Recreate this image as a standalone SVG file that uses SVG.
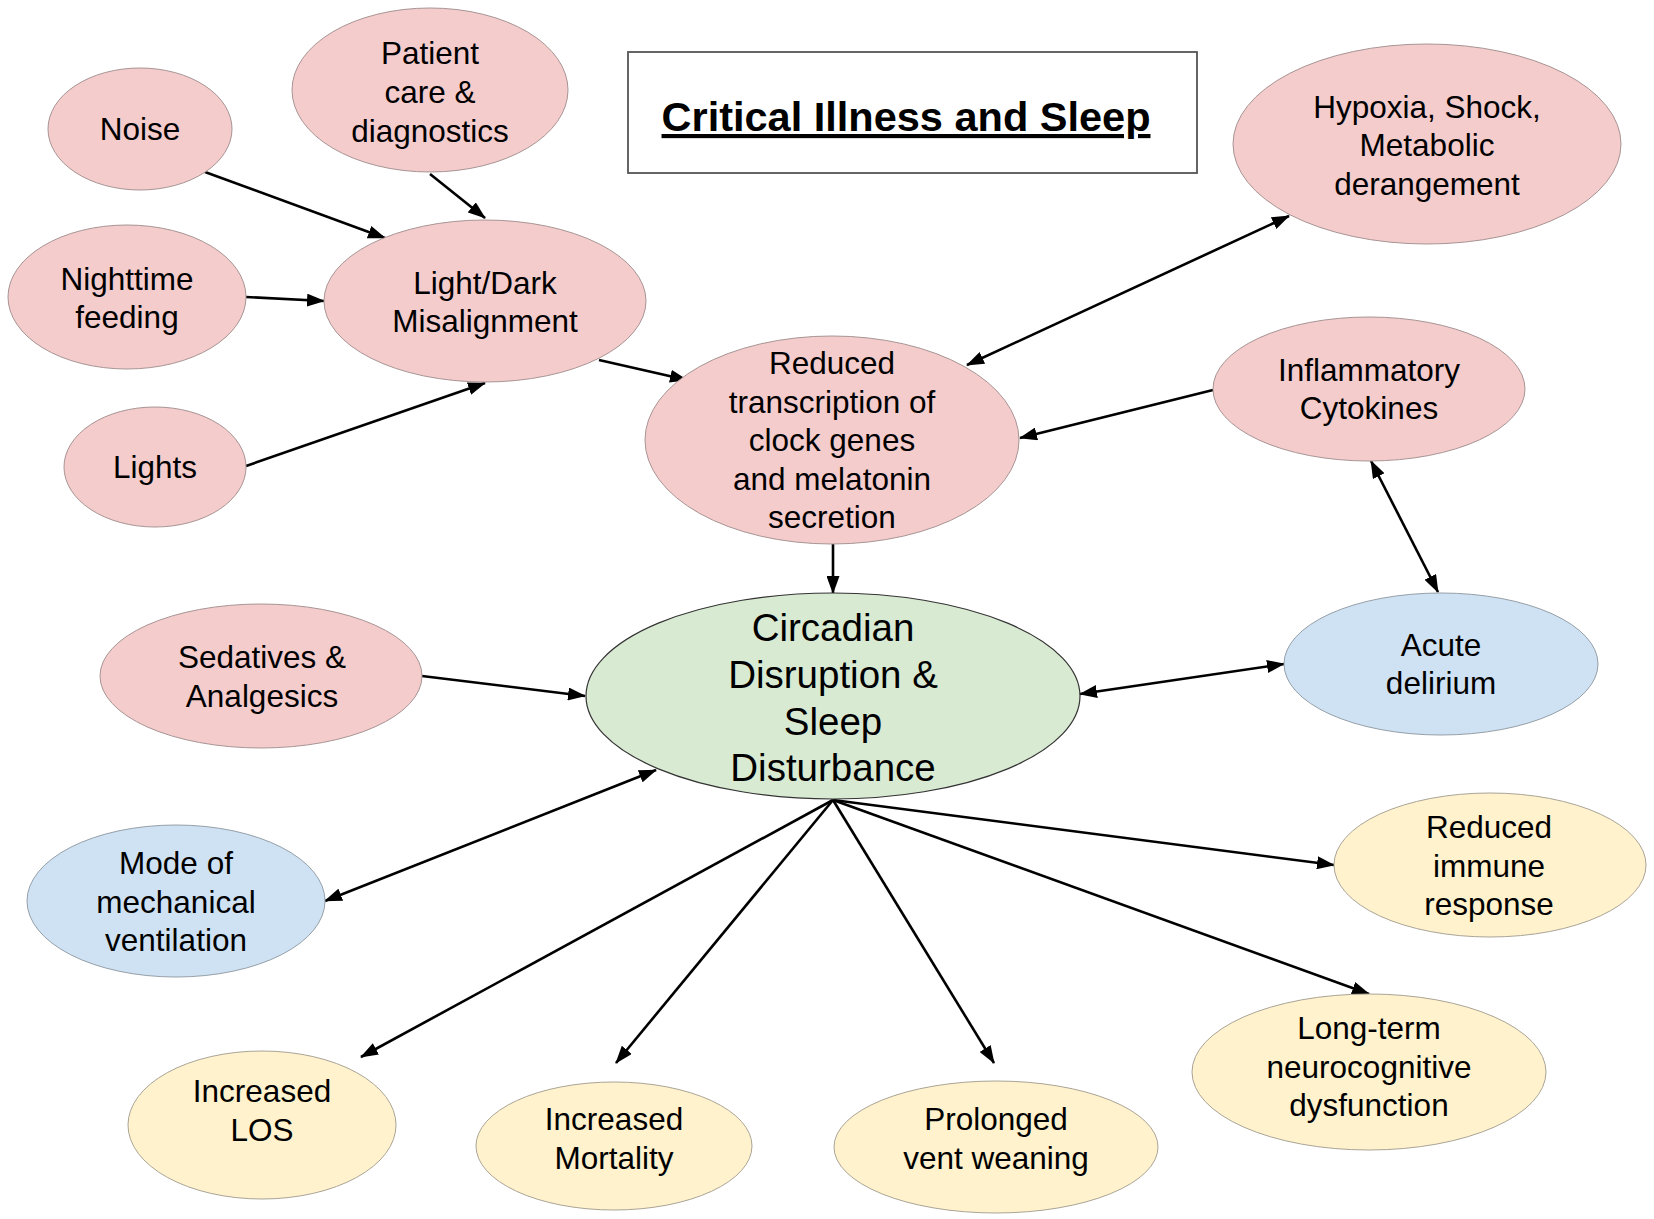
<svg xmlns="http://www.w3.org/2000/svg" width="1654" height="1219" viewBox="0 0 1654 1219">
<defs>
<marker id="ah" markerUnits="userSpaceOnUse" markerWidth="18" markerHeight="13" refX="17" refY="6.5" orient="auto-start-reverse">
<path d="M0,0 L18,6.5 L0,13 z" fill="#000"/>
</marker>
<style>
.pink{fill:#f4cccc;stroke:#a89494;stroke-width:1}
.green{fill:#d9ead3;stroke:#333;stroke-width:1.2}
.blue{fill:#cfe2f3;stroke:#959fa8;stroke-width:1}
.yellow{fill:#fff2cc;stroke:#aaa496;stroke-width:1}
text{font-family:"Liberation Sans",Arial,sans-serif;fill:#000;text-anchor:middle}
.t{font-size:31.5px}
.big{font-size:38.5px}
.c line{stroke:#000;stroke-width:2.6;marker-end:url(#ah)}
.c line.both{marker-start:url(#ah)}
</style>
</defs>
<rect width="1654" height="1219" fill="#fff"/>

<g id="connectors" class="c">
<line x1="205" y1="172" x2="385" y2="238"/>
<line x1="430" y1="174" x2="485" y2="218"/>
<line x1="246" y1="297" x2="324" y2="301"/>
<line x1="246" y1="466" x2="485" y2="383"/>
<line x1="599" y1="360" x2="687" y2="380"/>
<line class="both" x1="1289" y1="216" x2="967" y2="365"/>
<line x1="1213" y1="390" x2="1020" y2="438"/>
<line x1="833" y1="543" x2="833" y2="593"/>
<line class="both" x1="1371" y1="461" x2="1438" y2="592"/>
<line x1="422" y1="676" x2="585" y2="696"/>
<line class="both" x1="1080" y1="694" x2="1284" y2="664"/>
<line class="both" x1="656" y1="770" x2="325" y2="901"/>
<line x1="833" y1="800" x2="361" y2="1057"/>
<line x1="833" y1="800" x2="616" y2="1063"/>
<line x1="833" y1="800" x2="994" y2="1063"/>
<line x1="833" y1="800" x2="1369" y2="994"/>
<line x1="833" y1="800" x2="1334" y2="865"/>
</g>

<g id="title">
<rect x="628" y="52" width="569" height="121" fill="#fff" stroke="#555" stroke-width="1.8"/>
<text x="906" y="131" style="font-size:41.5px;font-weight:bold;text-decoration:underline">Critical Illness and Sleep</text>
</g>

<g id="noise">
<ellipse class="pink" cx="140" cy="129" rx="92" ry="61"/>
<text class="t" x="140" y="140">Noise</text>
</g>
<g id="patient-care">
<ellipse class="pink" cx="430" cy="90" rx="138" ry="82"/>
<text class="t" x="430" y="64">Patient</text>
<text class="t" x="430" y="103">care &amp;</text>
<text class="t" x="430" y="142">diagnostics</text>
</g>
<g id="nighttime-feeding">
<ellipse class="pink" cx="127" cy="297" rx="119" ry="72"/>
<text class="t" x="127" y="290">Nighttime</text>
<text class="t" x="127" y="328">feeding</text>
</g>
<g id="light-dark">
<ellipse class="pink" cx="485" cy="301" rx="161" ry="81"/>
<text class="t" x="485" y="294">Light/Dark</text>
<text class="t" x="485" y="332">Misalignment</text>
</g>
<g id="lights">
<ellipse class="pink" cx="155" cy="467" rx="91" ry="60"/>
<text class="t" x="155" y="478">Lights</text>
</g>
<g id="reduced-transcription">
<ellipse class="pink" cx="832" cy="440" rx="187" ry="104"/>
<text class="t" x="832" y="374">Reduced</text>
<text class="t" x="832" y="413">transcription of</text>
<text class="t" x="832" y="451">clock genes</text>
<text class="t" x="832" y="490">and melatonin</text>
<text class="t" x="832" y="528">secretion</text>
</g>
<g id="hypoxia">
<ellipse class="pink" cx="1427" cy="144" rx="194" ry="100"/>
<text class="t" x="1427" y="118">Hypoxia, Shock,</text>
<text class="t" x="1427" y="156">Metabolic</text>
<text class="t" x="1427" y="195">derangement</text>
</g>
<g id="inflammatory-cytokines">
<ellipse class="pink" cx="1369" cy="389" rx="156" ry="72"/>
<text class="t" x="1369" y="381">Inflammatory</text>
<text class="t" x="1369" y="419">Cytokines</text>
</g>
<g id="circadian">
<ellipse class="green" cx="833" cy="696" rx="247" ry="103"/>
<text class="big" x="833" y="641">Circadian</text>
<text class="big" x="833" y="688">Disruption &amp;</text>
<text class="big" x="833" y="735">Sleep</text>
<text class="big" x="833" y="781">Disturbance</text>
</g>
<g id="sedatives">
<ellipse class="pink" cx="261" cy="676" rx="161" ry="72"/>
<text class="t" x="262" y="668">Sedatives &amp;</text>
<text class="t" x="262" y="707">Analgesics</text>
</g>
<g id="acute-delirium">
<ellipse class="blue" cx="1441" cy="664" rx="157" ry="71"/>
<text class="t" x="1441" y="656">Acute</text>
<text class="t" x="1441" y="694">delirium</text>
</g>
<g id="mechanical-ventilation">
<ellipse class="blue" cx="176" cy="901" rx="149" ry="76"/>
<text class="t" x="176" y="874">Mode of</text>
<text class="t" x="176" y="913">mechanical</text>
<text class="t" x="176" y="951">ventilation</text>
</g>
<g id="reduced-immune">
<ellipse class="yellow" cx="1490" cy="865" rx="156" ry="72"/>
<text class="t" x="1489" y="838">Reduced</text>
<text class="t" x="1489" y="877">immune</text>
<text class="t" x="1489" y="915">response</text>
</g>
<g id="long-term">
<ellipse class="yellow" cx="1369" cy="1072" rx="177" ry="78"/>
<text class="t" x="1369" y="1039">Long-term</text>
<text class="t" x="1369" y="1078">neurocognitive</text>
<text class="t" x="1369" y="1116">dysfunction</text>
</g>
<g id="increased-los">
<ellipse class="yellow" cx="262" cy="1125" rx="134" ry="74"/>
<text class="t" x="262" y="1102">Increased</text>
<text class="t" x="262" y="1141">LOS</text>
</g>
<g id="increased-mortality">
<ellipse class="yellow" cx="614" cy="1146" rx="138" ry="64"/>
<text class="t" x="614" y="1130">Increased</text>
<text class="t" x="614" y="1169">Mortality</text>
</g>
<g id="prolonged-weaning">
<ellipse class="yellow" cx="996" cy="1147" rx="162" ry="66"/>
<text class="t" x="996" y="1130">Prolonged</text>
<text class="t" x="996" y="1169">vent weaning</text>
</g>
</svg>
